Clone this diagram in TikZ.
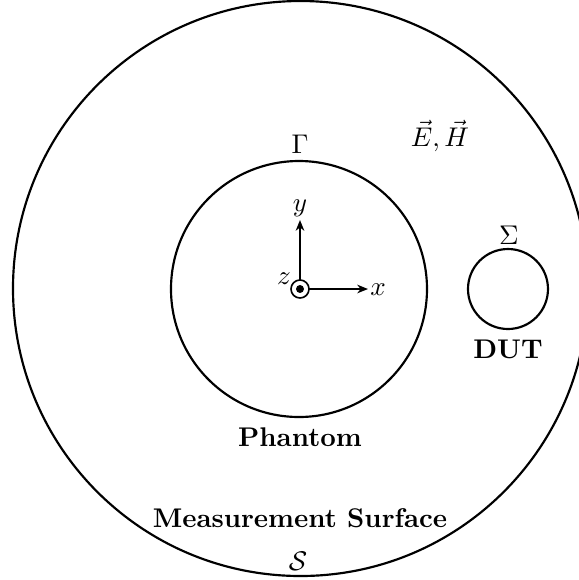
\documentclass[tikz,border=0pt]{standalone}
\usetikzlibrary{arrows.meta}
\begin{document}
\begin{tikzpicture}[x=0.37pt,y=-0.37pt,
  bnd/.style={draw=black,line width=0.8pt},
  axis/.style={line width=0.6pt,-{Stealth[length=4pt,width=3.2pt]}},
  lbl/.style={inner sep=0pt,font=\bfseries}]
\useasboundingbox (0,0) rectangle (579,580);
\clip (0,0) rectangle (579,580);
% measurement surface
\draw[bnd] (300.5,288.5) circle[radius=287.5*0.37pt];
% phantom
\draw[bnd] (299,289) circle[radius=128*0.37pt];
% DUT
\draw[bnd] (508,289) circle[radius=40*0.37pt];
% axes
\coordinate (o) at (300,289);
\coordinate (xe) at (368,289);
\coordinate (ye) at (300,220);
\draw[axis] (o) -- (xe);
\draw[axis] (o) -- (ye);
\draw[line width=0.6pt,fill=white] (o) circle[radius=9*0.37pt];
\fill (o) circle[radius=4*0.37pt];
\node[inner sep=0pt] (xl) at (378,290) {$x$};
\node[inner sep=0pt] (yl) at (300,208) {$y$};
\node[inner sep=0pt] (zl) at (284,279) {$z$};
% labels
\node[inner sep=0pt] (gam) at (300,144) {$\Gamma$};
\node[inner sep=0pt] (eh) at (440,136) {$\vec{E},\vec{H}$};
\node[inner sep=0pt] (sig) at (509,235) {$\Sigma$};
\node[lbl] (dut) at (508,349) {DUT};
\node[lbl] (ph) at (300,437) {Phantom};
\node[lbl] (ms) at (300,518) {Measurement Surface};
\node[inner sep=0pt] (s) at (298,561) {$\mathcal{S}$};
\end{tikzpicture}
\end{document}
